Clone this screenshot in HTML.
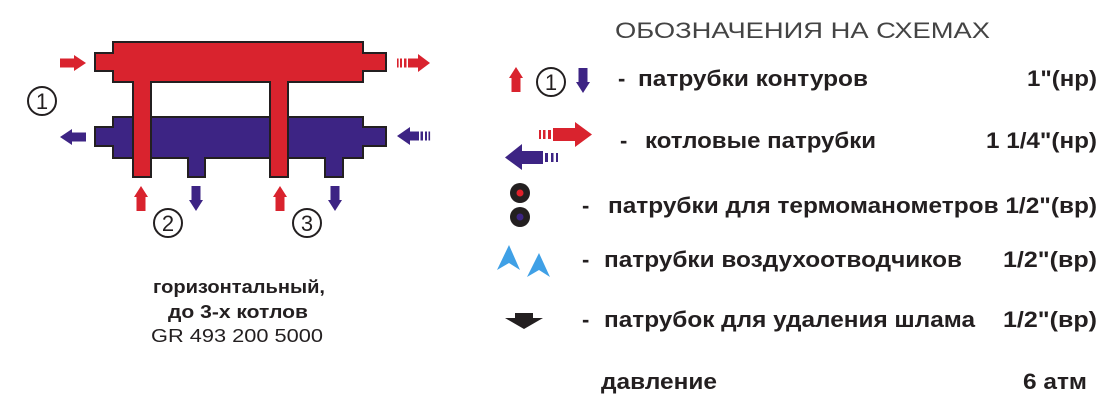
<!DOCTYPE html>
<html><head><meta charset="utf-8"><style>
html,body{margin:0;padding:0;background:#fff;}
svg{display:block;}
text{font-family:"Liberation Sans",Arial,sans-serif;fill:#231f20;}
.b{font-weight:bold;font-size:22px;}
</style></head><body>
<svg width="1114" height="412" viewBox="0 0 1114 412" xmlns="http://www.w3.org/2000/svg">
<defs>
<g id="rarr"><path d="M0,-4.5H14V-8L26,0L14,8V4.5H0Z" fill="#d9232e"/></g>
<g id="larr"><path d="M0,-4.5H-14V-8L-26,0L-14,8V4.5H0Z" fill="#3d2484"/></g>
<g id="uarr"><path d="M-4.5,0V-14H-7L0,-25L7,-14H4.5V0Z" fill="#d9232e"/></g>
<g id="darr"><path d="M-4.5,0V14H-7L0,25L7,14H4.5V0Z" fill="#3d2484"/></g>
</defs>
<path d="M113,117H363V127H386V146H363V158H343V177H325V158H205V177H188V158H113V146H95V127H113Z" fill="#3d2484" stroke="#231f20" stroke-width="2"/>
<path d="M113,42H363V53H386V71H363V82H288V177H270V82H151V177H133V82H113V71H95V53H113Z" fill="#d9232e" stroke="#231f20" stroke-width="2"/>
<use href="#rarr" x="60" y="63"/>
<use href="#larr" x="86" y="137"/>
<g fill="#d9232e"><rect x="397" y="58.5" width="1.6" height="9"/><rect x="400" y="58.5" width="2" height="9"/><rect x="404" y="58.5" width="2.5" height="9"/><rect x="408" y="58.5" width="11" height="9"/><path d="M418,54L430,63L418,72Z"/></g>
<g fill="#3d2484"><rect x="428.5" y="131.5" width="1.6" height="9"/><rect x="425" y="131.5" width="2" height="9"/><rect x="420.5" y="131.5" width="2.5" height="9"/><rect x="408" y="131.5" width="11" height="9"/><path d="M410,127L397,136L410,145Z"/></g>
<use href="#uarr" x="141" y="211"/>
<use href="#darr" x="196" y="186"/>
<use href="#uarr" x="280" y="211"/>
<use href="#darr" x="335" y="186"/>
<g fill="#fff" stroke="#231f20" stroke-width="2">
<circle cx="42" cy="101" r="14"/><circle cx="168" cy="223" r="14"/><circle cx="307" cy="223" r="14"/><circle cx="551" cy="82" r="14"/></g>
<g font-size="22" text-anchor="middle"><text x="42" y="109">1</text><text x="168" y="231">2</text><text x="307" y="231">3</text><text x="551" y="90">1</text></g>
<g text-anchor="middle" font-size="18"><text x="239" y="293" font-weight="bold" textLength="172" lengthAdjust="spacingAndGlyphs">горизонтальный,</text>
<text x="238" y="318" font-weight="bold" textLength="140" lengthAdjust="spacingAndGlyphs">до 3-х котлов</text>
<text x="237" y="342" fill="#333" textLength="172" lengthAdjust="spacingAndGlyphs">GR 493 200 5000</text></g>
<text x="615" y="38" font-size="22" style="fill:#444" textLength="375" lengthAdjust="spacingAndGlyphs">ОБОЗНАЧЕНИЯ НА СХЕМАХ</text>
<use href="#uarr" x="516" y="92"/>
<use href="#darr" x="583" y="68"/>
<g fill="#d9232e"><rect x="539" y="130" width="2" height="9"/><rect x="543" y="130" width="2.5" height="9"/><rect x="548" y="130" width="3" height="9"/><rect x="553" y="128" width="23" height="13"/><path d="M575,122L592,134.5L575,147Z"/></g>
<g fill="#3d2484"><rect x="556" y="153" width="2" height="9"/><rect x="551" y="153" width="2.5" height="9"/><rect x="545" y="153" width="3" height="9"/><rect x="521" y="151" width="22" height="13"/><path d="M522,144L505,157.5L522,170Z"/></g>
<circle cx="520" cy="193" r="10" fill="#231f20"/><circle cx="520" cy="193" r="3.5" fill="#e0202a"/>
<circle cx="520" cy="217" r="10" fill="#231f20"/><circle cx="520" cy="217" r="3.5" fill="#3d2484"/>
<path d="M509,245L520,270L509,263L497,270Z" fill="#3fa0e6"/>
<path d="M539,253L550,277L539,270L527,277Z" fill="#3fa0e6"/>
<path d="M515,313H533V318H543L524,329L505,318H515Z" fill="#231f20"/>
<text class="b" x="618" y="86">-</text><text class="b" x="638" y="86" textLength="230" lengthAdjust="spacingAndGlyphs">патрубки контуров</text><text class="b" x="1097" y="86" text-anchor="end" textLength="70" lengthAdjust="spacingAndGlyphs">1"(нр)</text>
<text class="b" x="620" y="148">-</text><text class="b" x="645" y="148" textLength="231" lengthAdjust="spacingAndGlyphs">котловые патрубки</text><text class="b" x="1097" y="148" text-anchor="end" textLength="111" lengthAdjust="spacingAndGlyphs">1 1/4"(нр)</text>
<text class="b" x="582" y="213">-</text><text class="b" x="608" y="213" textLength="489" lengthAdjust="spacingAndGlyphs">патрубки для термоманометров 1/2"(вр)</text>
<text class="b" x="582" y="267">-</text><text class="b" x="604" y="267" textLength="358" lengthAdjust="spacingAndGlyphs">патрубки воздухоотводчиков</text><text class="b" x="1097" y="267" text-anchor="end" textLength="94" lengthAdjust="spacingAndGlyphs">1/2"(вр)</text>
<text class="b" x="582" y="327">-</text><text class="b" x="604" y="327" textLength="371" lengthAdjust="spacingAndGlyphs">патрубок для удаления шлама</text><text class="b" x="1097" y="327" text-anchor="end" textLength="94" lengthAdjust="spacingAndGlyphs">1/2"(вр)</text>
<text class="b" x="601" y="389" textLength="116" lengthAdjust="spacingAndGlyphs">давление</text><text class="b" x="1087" y="389" text-anchor="end" textLength="64" lengthAdjust="spacingAndGlyphs">6 атм</text>
</svg>
</body></html>
